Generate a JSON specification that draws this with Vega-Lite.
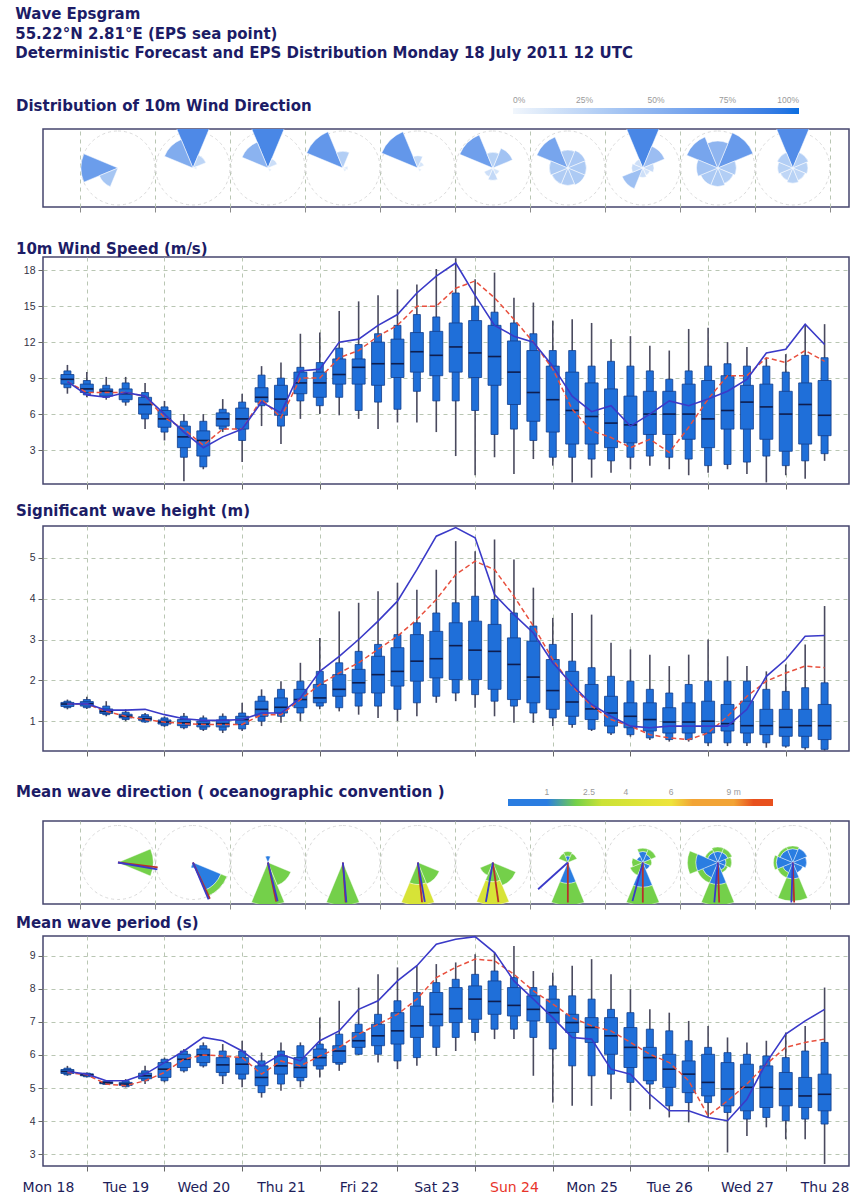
{
  "$schema": "https://vega.github.io/schema/vega-lite/v6.json",
  "background": "white",
  "padding": {"left": 15, "top": 7, "right": 5, "bottom": 0},
  "title": {
    "text": ["Wave Epsgram", "\u00a055.22°N 2.81°E (EPS sea point)", "Deterministic Forecast and EPS Distribution Monday 18 July 2011 12 UTC"],
    "anchor": "start", "frame": "bounds", "baseline": "bottom", "lineHeight": 19.5, "fontSize": 15, "offset": 22, "dx": 0,
    "color": "#1c1c66", "font": "DejaVu Sans", "fontWeight": "bold"
  },
  "spacing": 0,
  "datasets": {
    "roses": [{"i":0},{"i":1},{"i":2},{"i":3},{"i":4},{"i":5},{"i":6},{"i":7},{"i":8},{"i":9}],
    "wdir": [
      {"i":0,"d0":247.5,"d1":292.5,"p":0.66},{"i":0,"d0":202.5,"d1":247.5,"p":0.36},
      {"i":1,"d0":-22.5,"d1":22.5,"p":0.8},{"i":1,"d0":292.5,"d1":337.5,"p":0.55},{"i":1,"d0":22.5,"d1":67.5,"p":0.25},{"i":1,"d0":67.5,"d1":112.5,"p":0.07},
      {"i":2,"d0":-22.5,"d1":22.5,"p":0.82},{"i":2,"d0":292.5,"d1":337.5,"p":0.5},{"i":2,"d0":22.5,"d1":67.5,"p":0.18},{"i":2,"d0":112.5,"d1":157.5,"p":0.07},
      {"i":3,"d0":292.5,"d1":337.5,"p":0.7},{"i":3,"d0":-22.5,"d1":22.5,"p":0.3},{"i":3,"d0":67.5,"d1":112.5,"p":0.09},{"i":3,"d0":112.5,"d1":157.5,"p":0.07},
      {"i":4,"d0":292.5,"d1":337.5,"p":0.7},{"i":4,"d0":-22.5,"d1":22.5,"p":0.22},{"i":4,"d0":22.5,"d1":67.5,"p":0.12},{"i":4,"d0":112.5,"d1":157.5,"p":0.07},
      {"i":5,"d0":292.5,"d1":337.5,"p":0.64},{"i":5,"d0":22.5,"d1":67.5,"p":0.38},{"i":5,"d0":-22.5,"d1":22.5,"p":0.28},{"i":5,"d0":157.5,"d1":202.5,"p":0.22},{"i":5,"d0":202.5,"d1":247.5,"p":0.17},{"i":5,"d0":112.5,"d1":157.5,"p":0.13},
      {"i":6,"d0":292.5,"d1":337.5,"p":0.6},{"i":6,"d0":-22.5,"d1":22.5,"p":0.32},{"i":6,"d0":22.5,"d1":67.5,"p":0.34},{"i":6,"d0":67.5,"d1":112.5,"p":0.33},{"i":6,"d0":112.5,"d1":157.5,"p":0.33},{"i":6,"d0":157.5,"d1":202.5,"p":0.31},{"i":6,"d0":202.5,"d1":247.5,"p":0.31},{"i":6,"d0":247.5,"d1":292.5,"p":0.33},
      {"i":7,"d0":-22.5,"d1":22.5,"p":0.82},{"i":7,"d0":22.5,"d1":67.5,"p":0.42},{"i":7,"d0":67.5,"d1":112.5,"p":0.2},{"i":7,"d0":112.5,"d1":157.5,"p":0.14},{"i":7,"d0":157.5,"d1":202.5,"p":0.17},{"i":7,"d0":202.5,"d1":247.5,"p":0.4},{"i":7,"d0":247.5,"d1":292.5,"p":0.2},{"i":7,"d0":292.5,"d1":337.5,"p":0.17},
      {"i":8,"d0":22.5,"d1":67.5,"p":0.68},{"i":8,"d0":292.5,"d1":337.5,"p":0.6},{"i":8,"d0":-22.5,"d1":22.5,"p":0.48},{"i":8,"d0":67.5,"d1":112.5,"p":0.33},{"i":8,"d0":112.5,"d1":157.5,"p":0.3},{"i":8,"d0":157.5,"d1":202.5,"p":0.33},{"i":8,"d0":202.5,"d1":247.5,"p":0.33},{"i":8,"d0":247.5,"d1":292.5,"p":0.38},
      {"i":9,"d0":-22.5,"d1":22.5,"p":0.78},{"i":9,"d0":22.5,"d1":67.5,"p":0.3},{"i":9,"d0":67.5,"d1":112.5,"p":0.27},{"i":9,"d0":112.5,"d1":157.5,"p":0.24},{"i":9,"d0":157.5,"d1":202.5,"p":0.27},{"i":9,"d0":202.5,"d1":247.5,"p":0.24},{"i":9,"d0":247.5,"d1":292.5,"p":0.27},{"i":9,"d0":292.5,"d1":337.5,"p":0.3}
    ],
    "wave": [
      {"i":0,"d0":67.5,"d1":112.5,"c":1.75,"p":0.64},
      {"i":1,"d0":112.5,"d1":157.5,"c":0.5,"p":0.55},{"i":1,"d0":112.5,"d1":157.5,"c":1.75,"p":0.12},{"i":1,"d0":157.5,"d1":202.5,"c":0.5,"p":0.1},
      {"i":2,"d0":157.5,"d1":202.5,"c":1.75,"p":0.78},{"i":2,"d0":112.5,"d1":157.5,"c":1.75,"p":0.45},{"i":2,"d0":-22.5,"d1":22.5,"c":0.5,"p":0.12},
      {"i":3,"d0":157.5,"d1":202.5,"c":1.75,"p":0.78},
      {"i":4,"d0":157.5,"d1":202.5,"c":1.75,"p":0.4},{"i":4,"d0":157.5,"d1":202.5,"c":4,"p":0.38},{"i":4,"d0":112.5,"d1":157.5,"c":1.75,"p":0.42},
      {"i":5,"d0":157.5,"d1":202.5,"c":1.75,"p":0.35},{"i":5,"d0":157.5,"d1":202.5,"c":4,"p":0.42},{"i":5,"d0":112.5,"d1":157.5,"c":1.75,"p":0.45},{"i":5,"d0":202.5,"d1":247.5,"c":1.75,"p":0.25},
      {"i":6,"d0":-22.5,"d1":22.5,"c":0.5,"p":0.12},{"i":6,"d0":-22.5,"d1":22.5,"c":1.75,"p":0.08},{"i":6,"d0":22.5,"d1":67.5,"c":1.75,"p":0.18},{"i":6,"d0":292.5,"d1":337.5,"c":1.75,"p":0.18},{"i":6,"d0":157.5,"d1":202.5,"c":0.5,"p":0.38},{"i":6,"d0":157.5,"d1":202.5,"c":1.75,"p":0.4},
      {"i":7,"d0":-22.5,"d1":22.5,"c":0.5,"p":0.2},{"i":7,"d0":-22.5,"d1":22.5,"c":1.75,"p":0.06},{"i":7,"d0":22.5,"d1":67.5,"c":0.5,"p":0.16},{"i":7,"d0":22.5,"d1":67.5,"c":1.75,"p":0.1},{"i":7,"d0":67.5,"d1":112.5,"c":1.75,"p":0.16},{"i":7,"d0":112.5,"d1":157.5,"c":0.5,"p":0.14},{"i":7,"d0":157.5,"d1":202.5,"c":0.5,"p":0.45},{"i":7,"d0":157.5,"d1":202.5,"c":1.75,"p":0.33},{"i":7,"d0":202.5,"d1":247.5,"c":1.75,"p":0.25},{"i":7,"d0":247.5,"d1":292.5,"c":1.75,"p":0.2},{"i":7,"d0":292.5,"d1":337.5,"c":0.5,"p":0.12},
      {"i":8,"d0":-22.5,"d1":22.5,"c":0.5,"p":0.2},{"i":8,"d0":-22.5,"d1":22.5,"c":1.75,"p":0.08},{"i":8,"d0":22.5,"d1":67.5,"c":0.5,"p":0.2},{"i":8,"d0":22.5,"d1":67.5,"c":1.75,"p":0.08},{"i":8,"d0":67.5,"d1":112.5,"c":0.5,"p":0.15},{"i":8,"d0":67.5,"d1":112.5,"c":1.75,"p":0.1},{"i":8,"d0":112.5,"d1":157.5,"c":0.5,"p":0.15},{"i":8,"d0":112.5,"d1":157.5,"c":1.75,"p":0.05},{"i":8,"d0":157.5,"d1":202.5,"c":0.5,"p":0.4},{"i":8,"d0":157.5,"d1":202.5,"c":1.75,"p":0.38},{"i":8,"d0":202.5,"d1":247.5,"c":0.5,"p":0.3},{"i":8,"d0":202.5,"d1":247.5,"c":1.75,"p":0.1},{"i":8,"d0":247.5,"d1":292.5,"c":0.5,"p":0.4},{"i":8,"d0":247.5,"d1":292.5,"c":1.75,"p":0.15},{"i":8,"d0":292.5,"d1":337.5,"c":0.5,"p":0.2},{"i":8,"d0":292.5,"d1":337.5,"c":1.75,"p":0.05},
      {"i":9,"d0":-22.5,"d1":22.5,"c":0.5,"p":0.25},{"i":9,"d0":-22.5,"d1":22.5,"c":1.75,"p":0.05},{"i":9,"d0":22.5,"d1":67.5,"c":0.5,"p":0.28},{"i":9,"d0":67.5,"d1":112.5,"c":0.5,"p":0.25},{"i":9,"d0":112.5,"d1":157.5,"c":0.5,"p":0.2},{"i":9,"d0":157.5,"d1":202.5,"c":0.5,"p":0.3},{"i":9,"d0":157.5,"d1":202.5,"c":1.75,"p":0.4},{"i":9,"d0":202.5,"d1":247.5,"c":0.5,"p":0.2},{"i":9,"d0":202.5,"d1":247.5,"c":1.75,"p":0.1},{"i":9,"d0":247.5,"d1":292.5,"c":0.5,"p":0.3},{"i":9,"d0":247.5,"d1":292.5,"c":1.75,"p":0.05},{"i":9,"d0":292.5,"d1":337.5,"c":0.5,"p":0.25},{"i":9,"d0":292.5,"d1":337.5,"c":1.75,"p":0.05}
    ],
    "wline": [
      {"i":0,"m":"CTRL","dir":97},{"i":1,"m":"CTRL","dir":155},{"i":2,"m":"CTRL","dir":168},{"i":3,"m":"CTRL","dir":176},{"i":4,"m":"CTRL","dir":174},{"i":5,"m":"CTRL","dir":172},{"i":6,"m":"CTRL","dir":180},{"i":7,"m":"CTRL","dir":180},{"i":8,"m":"CTRL","dir":178},{"i":9,"m":"CTRL","dir":178},
      {"i":0,"m":"HRES","dir":100},{"i":1,"m":"HRES","dir":157},{"i":2,"m":"HRES","dir":166},{"i":3,"m":"HRES","dir":175},{"i":4,"m":"HRES","dir":170},{"i":5,"m":"HRES","dir":190},{"i":6,"m":"HRES","dir":228},{"i":7,"m":"HRES","dir":195},{"i":8,"m":"HRES","dir":185},{"i":9,"m":"HRES","dir":182}
    ],
    "ws": [
      {"h":18,"mn":7.7,"p10":8.2,"p25":8.5,"md":8.9,"p75":9.3,"p90":9.6,"mx":10.1,"hr":8.7,"ct":8.7},
      {"h":24,"mn":7.4,"p10":7.6,"p25":7.8,"md":8.1,"p75":8.5,"p90":8.8,"mx":9.5,"hr":7.6,"ct":7.8},
      {"h":30,"mn":7.2,"p10":7.4,"p25":7.5,"md":7.9,"p75":8.1,"p90":8.4,"mx":9.1,"hr":7.4,"ct":7.8},
      {"h":36,"mn":6.7,"p10":7.0,"p25":7.2,"md":7.7,"p75":8.1,"p90":8.6,"mx":9.1,"hr":7.8,"ct":7.8},
      {"h":42,"mn":4.75,"p10":5.6,"p25":6.0,"md":6.8,"p75":7.4,"p90":7.8,"mx":8.6,"hr":7.5,"ct":7.5},
      {"h":48,"mn":3.8,"p10":4.5,"p25":4.9,"md":5.6,"p75":6.3,"p90":6.6,"mx":7.1,"hr":6.0,"ct":5.7},
      {"h":54,"mn":0.4,"p10":2.4,"p25":3.2,"md":4.1,"p75":5.0,"p90":5.4,"mx":6.0,"hr":4.5,"ct":4.75},
      {"h":60,"mn":1.4,"p10":1.6,"p25":2.5,"md":3.8,"p75":4.6,"p90":5.4,"mx":6.0,"hr":3.2,"ct":3.4},
      {"h":66,"mn":4.5,"p10":4.75,"p25":5.0,"md":5.6,"p75":6.1,"p90":6.4,"mx":7.25,"hr":4.1,"ct":4.75},
      {"h":72,"mn":2.0,"p10":3.8,"p25":4.75,"md":5.6,"p75":6.5,"p90":7.0,"mx":7.7,"hr":4.75,"ct":4.75},
      {"h":78,"mn":5.0,"p10":6.7,"p25":7.0,"md":7.4,"p75":8.2,"p90":9.25,"mx":10.0,"hr":7.0,"ct":7.25},
      {"h":84,"mn":3.5,"p10":5.0,"p25":5.9,"md":7.25,"p75":8.4,"p90":9.0,"mx":10.3,"hr":6.1,"ct":5.7},
      {"h":90,"mn":5.6,"p10":7.1,"p25":7.7,"md":8.6,"p75":9.5,"p90":9.9,"mx":12.7,"hr":9.6,"ct":9.0},
      {"h":96,"mn":6.0,"p10":6.7,"p25":7.4,"md":8.6,"p75":9.5,"p90":10.3,"mx":12.8,"hr":9.75,"ct":9.0},
      {"h":102,"mn":5.9,"p10":7.4,"p25":8.5,"md":9.3,"p75":10.6,"p90":11.5,"mx":14.6,"hr":12.0,"ct":10.7},
      {"h":108,"mn":5.6,"p10":6.3,"p25":8.5,"md":9.9,"p75":10.6,"p90":11.8,"mx":15.4,"hr":12.25,"ct":11.3},
      {"h":114,"mn":4.75,"p10":7.0,"p25":8.4,"md":10.2,"p75":12.0,"p90":12.7,"mx":15.9,"hr":13.4,"ct":12.5},
      {"h":120,"mn":5.3,"p10":6.4,"p25":9.05,"md":10.2,"p75":12.25,"p90":13.4,"mx":16.4,"hr":14.3,"ct":13.4},
      {"h":126,"mn":5.3,"p10":7.9,"p25":9.5,"md":11.2,"p75":12.8,"p90":14.3,"mx":16.8,"hr":16.1,"ct":15.0},
      {"h":132,"mn":4.5,"p10":7.1,"p25":9.2,"md":10.9,"p75":12.9,"p90":14.1,"mx":18.1,"hr":17.5,"ct":15.0},
      {"h":138,"mn":2.5,"p10":7.1,"p25":9.5,"md":11.6,"p75":13.6,"p90":16.1,"mx":19.0,"hr":18.6,"ct":16.5},
      {"h":144,"mn":0.9,"p10":6.3,"p25":9.05,"md":11.1,"p75":13.8,"p90":15.0,"mx":17.25,"hr":15.9,"ct":17.1},
      {"h":150,"mn":2.4,"p10":4.3,"p25":8.4,"md":10.8,"p75":13.4,"p90":14.5,"mx":17.8,"hr":13.4,"ct":15.7},
      {"h":156,"mn":1.0,"p10":4.75,"p25":6.8,"md":9.5,"p75":12.1,"p90":13.6,"mx":15.7,"hr":12.5,"ct":13.9},
      {"h":162,"mn":2.25,"p10":3.8,"p25":5.4,"md":7.8,"p75":11.3,"p90":12.7,"mx":15.3,"hr":12.0,"ct":12.0},
      {"h":168,"mn":1.7,"p10":2.4,"p25":4.5,"md":7.2,"p75":10.0,"p90":11.3,"mx":13.8,"hr":10.0,"ct":9.75},
      {"h":174,"mn":0.3,"p10":2.4,"p25":3.5,"md":6.3,"p75":9.5,"p90":11.3,"mx":13.9,"hr":7.5,"ct":6.4},
      {"h":180,"mn":0.7,"p10":2.25,"p25":3.5,"md":5.8,"p75":8.6,"p90":10.0,"mx":13.6,"hr":6.2,"ct":4.6},
      {"h":186,"mn":1.1,"p10":2.1,"p25":3.2,"md":5.25,"p75":8.1,"p90":10.4,"mx":12.25,"hr":6.7,"ct":4.05},
      {"h":192,"mn":1.4,"p10":2.4,"p25":3.6,"md":5.1,"p75":7.5,"p90":10.0,"mx":12.5,"hr":5.0,"ct":3.2},
      {"h":198,"mn":1.7,"p10":2.5,"p25":4.3,"md":6.0,"p75":7.9,"p90":9.6,"mx":11.7,"hr":6.0,"ct":3.9},
      {"h":204,"mn":1.4,"p10":2.4,"p25":4.3,"md":6.0,"p75":7.9,"p90":8.9,"mx":11.3,"hr":7.1,"ct":2.8},
      {"h":210,"mn":0.9,"p10":2.25,"p25":3.9,"md":6.0,"p75":8.5,"p90":9.6,"mx":13.1,"hr":6.7,"ct":4.9},
      {"h":216,"mn":1.1,"p10":1.7,"p25":3.2,"md":5.6,"p75":8.8,"p90":10.0,"mx":13.2,"hr":7.25,"ct":7.25},
      {"h":222,"mn":1.4,"p10":1.8,"p25":4.75,"md":6.3,"p75":9.2,"p90":10.2,"mx":12.0,"hr":7.9,"ct":9.2},
      {"h":228,"mn":1.0,"p10":2.0,"p25":4.75,"md":7.0,"p75":8.4,"p90":10.0,"mx":11.6,"hr":8.9,"ct":9.2},
      {"h":234,"mn":0.3,"p10":2.5,"p25":3.9,"md":6.6,"p75":8.5,"p90":10.0,"mx":10.7,"hr":11.1,"ct":10.7},
      {"h":240,"mn":0.9,"p10":1.7,"p25":2.9,"md":6.0,"p75":7.9,"p90":9.5,"mx":11.0,"hr":11.4,"ct":10.3},
      {"h":246,"mn":0.6,"p10":2.1,"p25":3.5,"md":6.8,"p75":8.6,"p90":10.9,"mx":13.5,"hr":13.5,"ct":11.3},
      {"h":252,"mn":2.1,"p10":2.7,"p25":4.2,"md":5.9,"p75":8.8,"p90":10.7,"mx":13.5,"hr":11.8,"ct":10.4}
    ],
    "swh": [
      {"h":18,"mn":1.29,"p10":1.33,"p25":1.36,"md":1.42,"p75":1.46,"p90":1.49,"mx":1.53,"hr":1.42,"ct":1.42},
      {"h":24,"mn":1.3,"p10":1.33,"p25":1.37,"md":1.43,"p75":1.48,"p90":1.53,"mx":1.6,"hr":1.43,"ct":1.42},
      {"h":30,"mn":1.12,"p10":1.16,"p25":1.19,"md":1.24,"p75":1.3,"p90":1.37,"mx":1.49,"hr":1.27,"ct":1.24},
      {"h":36,"mn":1.0,"p10":1.04,"p25":1.08,"md":1.12,"p75":1.17,"p90":1.22,"mx":1.29,"hr":1.27,"ct":1.12},
      {"h":42,"mn":0.96,"p10":0.98,"p25":1.02,"md":1.06,"p75":1.11,"p90":1.16,"mx":1.2,"hr":1.29,"ct":1.04},
      {"h":48,"mn":0.86,"p10":0.89,"p25":0.93,"md":0.98,"p75":1.03,"p90":1.08,"mx":1.12,"hr":1.16,"ct":0.98},
      {"h":54,"mn":0.8,"p10":0.84,"p25":0.89,"md":0.96,"p75":1.04,"p90":1.12,"mx":1.2,"hr":1.06,"ct":0.94},
      {"h":60,"mn":0.76,"p10":0.8,"p25":0.86,"md":0.93,"p75":1.0,"p90":1.08,"mx":1.14,"hr":1.02,"ct":0.92},
      {"h":66,"mn":0.71,"p10":0.78,"p25":0.86,"md":0.94,"p75":1.03,"p90":1.12,"mx":1.19,"hr":1.02,"ct":0.92},
      {"h":72,"mn":0.76,"p10":0.81,"p25":0.92,"md":1.04,"p75":1.12,"p90":1.2,"mx":1.45,"hr":1.04,"ct":0.92},
      {"h":78,"mn":0.88,"p10":1.0,"p25":1.12,"md":1.29,"p75":1.49,"p90":1.61,"mx":1.78,"hr":1.2,"ct":1.16},
      {"h":84,"mn":0.96,"p10":1.12,"p25":1.2,"md":1.34,"p75":1.57,"p90":1.78,"mx":1.98,"hr":1.2,"ct":1.16},
      {"h":90,"mn":1.0,"p10":1.2,"p25":1.33,"md":1.53,"p75":1.78,"p90":1.98,"mx":2.43,"hr":1.57,"ct":1.53},
      {"h":96,"mn":1.29,"p10":1.37,"p25":1.45,"md":1.57,"p75":1.9,"p90":2.22,"mx":3.04,"hr":2.22,"ct":1.9},
      {"h":102,"mn":1.24,"p10":1.33,"p25":1.61,"md":1.78,"p75":2.14,"p90":2.43,"mx":3.69,"hr":2.59,"ct":2.18},
      {"h":108,"mn":1.16,"p10":1.37,"p25":1.69,"md":1.94,"p75":2.27,"p90":2.71,"mx":3.9,"hr":3.0,"ct":2.43},
      {"h":114,"mn":1.08,"p10":1.37,"p25":1.69,"md":2.14,"p75":2.59,"p90":2.88,"mx":4.18,"hr":3.45,"ct":2.76},
      {"h":120,"mn":1.0,"p10":1.29,"p25":1.86,"md":2.22,"p75":2.8,"p90":3.12,"mx":4.39,"hr":3.94,"ct":3.08},
      {"h":126,"mn":1.12,"p10":1.45,"p25":1.98,"md":2.47,"p75":3.12,"p90":3.41,"mx":4.22,"hr":4.71,"ct":3.49},
      {"h":132,"mn":1.45,"p10":1.61,"p25":2.06,"md":2.53,"p75":3.2,"p90":3.65,"mx":4.71,"hr":5.53,"ct":3.98},
      {"h":138,"mn":1.49,"p10":1.69,"p25":2.02,"md":2.85,"p75":3.41,"p90":3.9,"mx":5.41,"hr":5.74,"ct":4.59},
      {"h":144,"mn":1.33,"p10":1.65,"p25":2.02,"md":2.74,"p75":3.45,"p90":4.06,"mx":5.16,"hr":5.49,"ct":4.92},
      {"h":150,"mn":1.12,"p10":1.49,"p25":1.78,"md":2.71,"p75":3.37,"p90":3.98,"mx":5.45,"hr":4.1,"ct":4.71},
      {"h":156,"mn":0.96,"p10":1.37,"p25":1.53,"md":2.39,"p75":3.04,"p90":3.65,"mx":4.96,"hr":3.61,"ct":4.06},
      {"h":162,"mn":0.96,"p10":1.2,"p25":1.45,"md":2.08,"p75":2.96,"p90":3.33,"mx":4.27,"hr":3.16,"ct":3.33},
      {"h":168,"mn":0.88,"p10":1.08,"p25":1.29,"md":1.75,"p75":2.51,"p90":2.88,"mx":3.53,"hr":2.43,"ct":2.51},
      {"h":174,"mn":0.84,"p10":0.92,"p25":1.12,"md":1.47,"p75":2.22,"p90":2.47,"mx":3.65,"hr":1.9,"ct":1.86},
      {"h":180,"mn":0.76,"p10":0.8,"p25":1.04,"md":1.3,"p75":1.9,"p90":2.31,"mx":3.61,"hr":1.41,"ct":1.37},
      {"h":186,"mn":0.66,"p10":0.71,"p25":0.88,"md":1.2,"p75":1.61,"p90":2.1,"mx":2.92,"hr":1.12,"ct":1.04},
      {"h":192,"mn":0.62,"p10":0.67,"p25":0.84,"md":1.12,"p75":1.45,"p90":1.98,"mx":2.76,"hr":0.88,"ct":0.88},
      {"h":198,"mn":0.54,"p10":0.59,"p25":0.76,"md":1.04,"p75":1.45,"p90":1.78,"mx":2.63,"hr":0.84,"ct":0.67},
      {"h":204,"mn":0.5,"p10":0.55,"p25":0.71,"md":0.98,"p75":1.33,"p90":1.69,"mx":2.35,"hr":0.88,"ct":0.59},
      {"h":210,"mn":0.5,"p10":0.55,"p25":0.71,"md":0.98,"p75":1.45,"p90":1.9,"mx":2.63,"hr":0.88,"ct":0.55},
      {"h":216,"mn":0.39,"p10":0.47,"p25":0.71,"md":1.0,"p75":1.49,"p90":1.98,"mx":3.0,"hr":0.88,"ct":0.71},
      {"h":222,"mn":0.39,"p10":0.47,"p25":0.76,"md":0.94,"p75":1.41,"p90":1.98,"mx":2.59,"hr":0.88,"ct":1.12},
      {"h":228,"mn":0.39,"p10":0.47,"p25":0.71,"md":0.89,"p75":1.49,"p90":1.98,"mx":2.35,"hr":1.29,"ct":1.61},
      {"h":234,"mn":0.35,"p10":0.47,"p25":0.67,"md":0.89,"p75":1.29,"p90":1.78,"mx":2.22,"hr":2.1,"ct":1.98},
      {"h":240,"mn":0.35,"p10":0.39,"p25":0.63,"md":0.85,"p75":1.29,"p90":1.73,"mx":2.39,"hr":2.51,"ct":2.18},
      {"h":246,"mn":0.3,"p10":0.35,"p25":0.63,"md":0.89,"p75":1.29,"p90":1.82,"mx":2.88,"hr":3.08,"ct":2.35},
      {"h":252,"mn":0.28,"p10":0.31,"p25":0.55,"md":0.89,"p75":1.41,"p90":1.94,"mx":3.82,"hr":3.1,"ct":2.31}
    ],
    "mwp": [
      {"h":18,"mn":5.37,"p10":5.4,"p25":5.44,"md":5.5,"p75":5.56,"p90":5.6,"mx":5.67,"hr":5.5,"ct":5.47},
      {"h":24,"mn":5.32,"p10":5.34,"p25":5.37,"md":5.4,"p75":5.43,"p90":5.45,"mx":5.47,"hr":5.42,"ct":5.4},
      {"h":30,"mn":5.1,"p10":5.11,"p25":5.13,"md":5.16,"p75":5.19,"p90":5.21,"mx":5.22,"hr":5.22,"ct":5.12},
      {"h":36,"mn":5.02,"p10":5.04,"p25":5.08,"md":5.12,"p75":5.17,"p90":5.22,"mx":5.27,"hr":5.22,"ct":5.07},
      {"h":42,"mn":5.12,"p10":5.22,"p25":5.28,"md":5.37,"p75":5.45,"p90":5.52,"mx":5.67,"hr":5.42,"ct":5.22},
      {"h":48,"mn":5.17,"p10":5.22,"p25":5.32,"md":5.57,"p75":5.77,"p90":5.87,"mx":5.92,"hr":5.77,"ct":5.47},
      {"h":54,"mn":5.47,"p10":5.52,"p25":5.62,"md":5.87,"p75":6.02,"p90":6.12,"mx":6.18,"hr":6.12,"ct":5.87},
      {"h":60,"mn":5.62,"p10":5.67,"p25":5.77,"md":6.0,"p75":6.18,"p90":6.28,"mx":6.38,"hr":6.53,"ct":6.0},
      {"h":66,"mn":5.12,"p10":5.37,"p25":5.47,"md":5.7,"p75":5.92,"p90":6.12,"mx":6.33,"hr":6.43,"ct":5.97},
      {"h":72,"mn":5.02,"p10":5.27,"p25":5.42,"md":5.72,"p75":5.92,"p90":6.12,"mx":6.43,"hr":6.12,"ct":5.92},
      {"h":78,"mn":4.71,"p10":4.86,"p25":5.07,"md":5.32,"p75":5.67,"p90":5.82,"mx":6.07,"hr":5.67,"ct":5.42},
      {"h":84,"mn":4.92,"p10":5.12,"p25":5.42,"md":5.67,"p75":5.97,"p90":6.12,"mx":6.38,"hr":6.02,"ct":5.82},
      {"h":90,"mn":5.02,"p10":5.22,"p25":5.32,"md":5.62,"p75":5.92,"p90":6.28,"mx":6.38,"hr":5.82,"ct":5.67},
      {"h":96,"mn":5.32,"p10":5.57,"p25":5.67,"md":5.92,"p75":6.18,"p90":6.33,"mx":7.13,"hr":6.43,"ct":5.97},
      {"h":102,"mn":5.52,"p10":5.72,"p25":5.77,"md":6.12,"p75":6.28,"p90":6.63,"mx":7.64,"hr":6.73,"ct":6.23},
      {"h":108,"mn":6.0,"p10":6.02,"p25":6.23,"md":6.43,"p75":6.68,"p90":6.93,"mx":8.04,"hr":7.38,"ct":6.63},
      {"h":114,"mn":5.77,"p10":6.02,"p25":6.28,"md":6.58,"p75":6.93,"p90":7.23,"mx":8.44,"hr":7.64,"ct":6.93},
      {"h":120,"mn":5.57,"p10":5.82,"p25":6.33,"md":6.73,"p75":7.28,"p90":7.64,"mx":8.65,"hr":8.24,"ct":7.23},
      {"h":126,"mn":5.67,"p10":5.92,"p25":6.53,"md":6.88,"p75":7.48,"p90":7.89,"mx":8.7,"hr":8.7,"ct":7.69},
      {"h":132,"mn":5.97,"p10":6.23,"p25":6.88,"md":7.23,"p75":7.89,"p90":8.19,"mx":8.75,"hr":9.35,"ct":8.34},
      {"h":138,"mn":6.12,"p10":6.53,"p25":6.98,"md":7.4,"p75":8.04,"p90":8.29,"mx":8.8,"hr":9.5,"ct":8.65},
      {"h":144,"mn":6.43,"p10":6.68,"p25":7.08,"md":7.69,"p75":8.09,"p90":8.44,"mx":9.05,"hr":9.58,"ct":8.9},
      {"h":150,"mn":6.48,"p10":6.78,"p25":7.23,"md":7.62,"p75":8.24,"p90":8.54,"mx":9.1,"hr":9.1,"ct":8.85},
      {"h":156,"mn":6.48,"p10":6.78,"p25":7.18,"md":7.5,"p75":8.04,"p90":8.34,"mx":9.3,"hr":8.24,"ct":8.44},
      {"h":162,"mn":5.37,"p10":6.53,"p25":7.03,"md":7.38,"p75":7.79,"p90":8.04,"mx":8.54,"hr":7.69,"ct":7.94},
      {"h":168,"mn":4.56,"p10":6.18,"p25":6.98,"md":7.28,"p75":7.69,"p90":8.09,"mx":8.49,"hr":7.13,"ct":7.54},
      {"h":174,"mn":4.46,"p10":5.67,"p25":6.68,"md":6.98,"p75":7.23,"p90":7.79,"mx":8.7,"hr":6.53,"ct":7.13},
      {"h":180,"mn":4.46,"p10":5.37,"p25":6.38,"md":6.83,"p75":7.13,"p90":7.69,"mx":8.9,"hr":6.48,"ct":6.88},
      {"h":186,"mn":4.66,"p10":5.42,"p25":6.02,"md":6.58,"p75":7.13,"p90":7.38,"mx":8.44,"hr":5.57,"ct":6.73},
      {"h":192,"mn":4.31,"p10":5.17,"p25":5.62,"md":6.23,"p75":6.83,"p90":7.28,"mx":7.99,"hr":5.42,"ct":6.38},
      {"h":198,"mn":4.36,"p10":5.12,"p25":5.22,"md":5.92,"p75":6.23,"p90":6.78,"mx":7.38,"hr":4.81,"ct":6.02},
      {"h":204,"mn":4.11,"p10":4.46,"p25":5.02,"md":5.57,"p75":6.02,"p90":6.73,"mx":7.28,"hr":4.31,"ct":5.77},
      {"h":210,"mn":3.96,"p10":4.56,"p25":4.86,"md":5.42,"p75":5.82,"p90":6.43,"mx":7.03,"hr":4.31,"ct":5.22},
      {"h":216,"mn":4.11,"p10":4.56,"p25":4.76,"md":5.17,"p75":6.02,"p90":6.23,"mx":6.88,"hr":4.11,"ct":4.16},
      {"h":222,"mn":3.05,"p10":4.26,"p25":4.46,"md":4.97,"p75":5.77,"p90":6.07,"mx":6.53,"hr":4.01,"ct":4.61},
      {"h":228,"mn":3.55,"p10":4.06,"p25":4.31,"md":5.02,"p75":5.72,"p90":6.02,"mx":6.38,"hr":4.66,"ct":5.12},
      {"h":234,"mn":3.81,"p10":4.11,"p25":4.41,"md":5.02,"p75":5.67,"p90":5.97,"mx":6.43,"hr":5.77,"ct":5.72},
      {"h":240,"mn":3.45,"p10":4.01,"p25":4.46,"md":4.97,"p75":5.47,"p90":5.92,"mx":6.68,"hr":6.63,"ct":6.23},
      {"h":246,"mn":3.45,"p10":4.06,"p25":4.41,"md":4.76,"p75":5.32,"p90":6.12,"mx":6.88,"hr":7.03,"ct":6.38},
      {"h":252,"mn":2.7,"p10":3.91,"p25":4.31,"md":4.81,"p75":5.42,"p90":6.38,"mx":8.04,"hr":7.38,"ct":6.48}
    ]
  },
  "vconcat": [
    {
      "width": 806, "height": 78,
      "title": {"text": "Distribution of 10m Wind Direction", "offset": -6},
      "encoding": {"x": {"field": "i", "type": "quantitative", "stack": null, "scale": {"domain": [-1, 9.75], "nice": false, "zero": false},
        "axis": {"values": [-0.5,0.5,1.5,2.5,3.5,4.5,5.5,6.5,7.5,8.5,9.5], "labels": false, "grid": true, "gridDash": [4,4], "gridColor": "#b9c6b3", "ticks": true, "tickSize": 5, "tickColor": "#8a8a8a", "domain": false, "title": null}}},
      "layer": [
        {"data": {"name": "roses"}, "mark": {"type": "arc", "theta": 0, "theta2": 6.2832, "outerRadius": 37, "innerRadius": 0, "filled": false, "stroke": "#dadada", "strokeWidth": 1, "strokeDash": [3,3]}},
        {"data": {"name": "wdir"}, "mark": {"type": "arc", "clip": true, "stroke": "white", "strokeWidth": 0.5},
          "encoding": {
            "theta": {"field": "d0", "type": "quantitative", "stack": null, "scale": {"domain": [0, 360], "range": [0, 6.2832], "zero": false, "nice": false}},
            "theta2": {"field": "d1"},
            "radius": {"field": "p", "type": "quantitative", "stack": null, "scale": {"type": "linear", "domain": [0, 1], "range": [0, 56], "zero": true}},
            "color": {"field": "p", "type": "quantitative", "scale": {"domain": [0, 1], "range": ["#f1f6fc", "#0a6ee0"]},
              "legend": {"orient": "none", "legendX": 470, "legendY": -21, "direction": "horizontal", "gradientLength": 286, "gradientThickness": 6, "title": null, "values": [0, 0.25, 0.5, 0.75, 1], "format": ".0%", "labelFontSize": 8.5, "labelColor": "#9a9a9a", "labelOffset": -18, "labelOverlap": false, "gradientStrokeWidth": 0}}
          }}
      ]
    },
    {
      "width": 806, "height": 227,
      "title": {"text": ["", "10m Wind Speed (m/s)"], "lineHeight": 27, "offset": 0},
      "data": {"name": "ws"},
      "encoding": {"x": {"field": "h", "type": "quantitative", "scale": {"domain": [12, 258], "nice": false, "zero": false},
        "axis": {"values": [12,24,36,48,60,72,84,96,108,120,132,144,156,168,180,192,204,216,228,240,252], "labels": false, "grid": true, "gridDash": [4,4], "gridColor": "#b9c6b3",
          "gridOpacity": {"condition": {"test": "datum.value % 24 === 0", "value": 1}, "value": 0},
          "ticks": true, "tickSize": 5, "tickColor": "#666",
          "tickOpacity": {"condition": {"test": "datum.value % 24 === 0", "value": 1}, "value": 0},
          "domain": false, "title": null}}},
      "layer": [
        {"mark": {"type": "rule", "color": "#4a4a5e", "strokeWidth": 1.6},
          "encoding": {"y": {"field": "mn", "type": "quantitative", "scale": {"domain": [0.17, 19.1], "nice": false, "zero": false},
            "axis": {"values": [3,6,9,12,15,18], "grid": true, "gridDash": [4,4], "gridColor": "#b9c6b3", "tickSize": 5, "tickColor": "#666", "labelFontSize": 10.5, "labelColor": "#333344", "labelPadding": 3, "labelOverlap": false, "domain": false, "title": null}},
            "y2": {"field": "mx"}}},
        {"mark": {"type": "bar", "size": 7, "fill": "#1f6fd9", "stroke": "#123e8c", "strokeWidth": 0.8}, "encoding": {"y": {"field": "p10", "type": "quantitative"}, "y2": {"field": "p90"}}},
        {"mark": {"type": "bar", "size": 13, "fill": "#1f6fd9", "stroke": "#123e8c", "strokeWidth": 0.8}, "encoding": {"y": {"field": "p25", "type": "quantitative"}, "y2": {"field": "p75"}}},
        {"mark": {"type": "point", "shape": "stroke", "size": 169, "filled": false, "stroke": "#0e1d4e", "strokeWidth": 1.6, "opacity": 1}, "encoding": {"y": {"field": "md", "type": "quantitative"}}},
        {"mark": {"type": "line", "color": "#e8503e", "strokeWidth": 1.5, "strokeDash": [5, 3]}, "encoding": {"y": {"field": "ct", "type": "quantitative"}}},
        {"mark": {"type": "line", "color": "#3a3ac8", "strokeWidth": 1.6}, "encoding": {"y": {"field": "hr", "type": "quantitative"}}}
      ]
    },
    {
      "width": 806, "height": 225,
      "title": {"text": ["", "Significant wave height (m)"], "lineHeight": 12, "offset": 5},
      "data": {"name": "swh"},
      "encoding": {"x": {"field": "h", "type": "quantitative", "scale": {"domain": [12, 258], "nice": false, "zero": false},
        "axis": {"values": [12,24,36,48,60,72,84,96,108,120,132,144,156,168,180,192,204,216,228,240,252], "labels": false, "grid": true, "gridDash": [4,4], "gridColor": "#b9c6b3",
          "gridOpacity": {"condition": {"test": "datum.value % 24 === 0", "value": 1}, "value": 0},
          "ticks": true, "tickSize": 5, "tickColor": "#666",
          "tickOpacity": {"condition": {"test": "datum.value % 24 === 0", "value": 1}, "value": 0},
          "domain": false, "title": null}}},
      "layer": [
        {"mark": {"type": "rule", "color": "#4a4a5e", "strokeWidth": 1.6},
          "encoding": {"y": {"field": "mn", "type": "quantitative", "scale": {"domain": [0.27, 5.78], "nice": false, "zero": false},
            "axis": {"values": [1,2,3,4,5], "grid": true, "gridDash": [4,4], "gridColor": "#b9c6b3", "tickSize": 5, "tickColor": "#666", "labelFontSize": 10.5, "labelColor": "#333344", "labelPadding": 3, "labelOverlap": false, "domain": false, "title": null}},
            "y2": {"field": "mx"}}},
        {"mark": {"type": "bar", "size": 7, "fill": "#1f6fd9", "stroke": "#123e8c", "strokeWidth": 0.8}, "encoding": {"y": {"field": "p10", "type": "quantitative"}, "y2": {"field": "p90"}}},
        {"mark": {"type": "bar", "size": 13, "fill": "#1f6fd9", "stroke": "#123e8c", "strokeWidth": 0.8}, "encoding": {"y": {"field": "p25", "type": "quantitative"}, "y2": {"field": "p75"}}},
        {"mark": {"type": "point", "shape": "stroke", "size": 169, "filled": false, "stroke": "#0e1d4e", "strokeWidth": 1.6, "opacity": 1}, "encoding": {"y": {"field": "md", "type": "quantitative"}}},
        {"mark": {"type": "line", "color": "#e8503e", "strokeWidth": 1.5, "strokeDash": [5, 3]}, "encoding": {"y": {"field": "ct", "type": "quantitative"}}},
        {"mark": {"type": "line", "color": "#3a3ac8", "strokeWidth": 1.6}, "encoding": {"y": {"field": "hr", "type": "quantitative"}}}
      ]
    },
    {
      "width": 806, "height": 83,
      "title": {"text": ["", "Mean wave direction ( oceanographic convention )"], "lineHeight": 26, "offset": -1},
      "encoding": {"x": {"field": "i", "type": "quantitative", "stack": null, "scale": {"domain": [-1, 9.75], "nice": false, "zero": false},
        "axis": {"values": [-0.5,0.5,1.5,2.5,3.5,4.5,5.5,6.5,7.5,8.5,9.5], "labels": false, "grid": true, "gridDash": [4,4], "gridColor": "#b9c6b3", "ticks": true, "tickSize": 5, "tickColor": "#8a8a8a", "domain": false, "title": null}}},
      "layer": [
        {"data": {"name": "roses"}, "mark": {"type": "arc", "theta": 0, "theta2": 6.2832, "outerRadius": 37, "innerRadius": 0, "filled": false, "stroke": "#dadada", "strokeWidth": 1, "strokeDash": [3,3]}},
        {"data": {"name": "wave"},
          "transform": [{"stack": "p", "groupby": ["i", "d0"], "sort": [{"field": "c", "order": "ascending"}], "as": ["r0", "r1"]}],
          "mark": {"type": "arc", "clip": true, "stroke": "white", "strokeWidth": 0.4},
          "encoding": {
            "theta": {"field": "d0", "type": "quantitative", "stack": null, "scale": {"domain": [0, 360], "range": [0, 6.2832], "zero": false, "nice": false}},
            "theta2": {"field": "d1"},
            "radius": {"field": "r1", "type": "quantitative", "stack": null, "scale": {"type": "linear", "domain": [0, 1], "range": [0, 55], "zero": true}},
            "radius2": {"field": "r0"},
            "color": {"field": "c", "type": "quantitative",
              "scale": {"type": "pow", "exponent": 0.8, "domain": [0, 1, 1.001, 2.5, 2.501, 6, 6.001, 9, 9.001, 11],
                "range": ["#2a7de1", "#2a7de1", "#74d04a", "#74d04a", "#c4e236", "#eee43c", "#f2a436", "#f2a436", "#e8501e", "#e8501e"]},
              "legend": {"orient": "none", "legendX": 465, "legendY": -22, "direction": "horizontal", "gradientLength": 265, "gradientThickness": 7, "title": null, "values": [1, 2.5, 4, 6, 9], "format": ".1~f", "labelExpr": "datum.value == 9 ? '9 m' : datum.label", "labelFontSize": 8.5, "labelColor": "#9a9a9a", "labelOffset": -18, "labelOverlap": false, "gradientStrokeWidth": 0}}
          }},
        {"data": {"name": "wline"},
          "mark": {"type": "point", "shape": "M0,0L0,-1", "size": 6400, "filled": false, "strokeWidth": 1.8, "opacity": 1, "clip": true},
          "encoding": {
            "angle": {"field": "dir", "type": "quantitative", "scale": {"domain": [0, 360], "range": [0, 360]}},
            "stroke": {"field": "m", "type": "nominal", "scale": {"domain": ["HRES", "CTRL"], "range": ["#3a3ac8", "#b8322a"]}, "legend": null}
          }}
      ]
    },
    {
      "width": 806, "height": 230,
      "title": {"text": ["", "Mean wave period (s)"], "lineHeight": 4, "offset": 2},
      "data": {"name": "mwp"},
      "encoding": {"x": {"field": "h", "type": "quantitative", "scale": {"domain": [12, 258], "nice": false, "zero": false},
        "axis": {"values": [12,24,36,48,60,72,84,96,108,120,132,144,156,168,180,192,204,216,228,240,252], "labels": true, "grid": true, "gridDash": [4,4], "gridColor": "#b9c6b3",
          "gridOpacity": {"condition": {"test": "datum.value % 24 === 0", "value": 1}, "value": 0},
          "ticks": true, "tickSize": 5, "tickColor": "#666",
          "tickOpacity": {"condition": {"test": "datum.value % 24 === 0", "value": 1}, "value": 0},
          "labelExpr": "datum.value % 24 === 12 ? ['Mon 18','Tue 19','Wed 20','Thu 21','Fri 22','Sat 23','Sun 24','Mon 25','Tue 26','Wed 27','Thu 28'][floor(datum.value / 24)] : ''",
          "labelColor": {"condition": {"test": "datum.value === 156", "value": "#e8352a"}, "value": "#1e1e5a"},
          "labelFont": "DejaVu Sans", "labelFontSize": 14, "labelPadding": 9, "labelOverlap": false, "labelFlush": false,
          "domain": false, "title": null}}},
      "layer": [
        {"mark": {"type": "rule", "color": "#4a4a5e", "strokeWidth": 1.6},
          "encoding": {"y": {"field": "mn", "type": "quantitative", "scale": {"domain": [2.64, 9.6], "nice": false, "zero": false},
            "axis": {"values": [3,4,5,6,7,8,9], "tickCount": 7, "grid": true, "gridDash": [4,4], "gridColor": "#b9c6b3", "tickSize": 5, "tickColor": "#666", "labelFontSize": 10.5, "labelColor": "#333344", "labelPadding": 3, "labelOverlap": false, "labelSeparation": 0, "labelBound": false, "domain": false, "title": null}},
            "y2": {"field": "mx"}}},
        {"mark": {"type": "bar", "size": 7, "fill": "#1f6fd9", "stroke": "#123e8c", "strokeWidth": 0.8}, "encoding": {"y": {"field": "p10", "type": "quantitative", "axis": {"values": [3,4,5,6,7,8,9], "labelOverlap": false}}, "y2": {"field": "p90"}}},
        {"mark": {"type": "bar", "size": 13, "fill": "#1f6fd9", "stroke": "#123e8c", "strokeWidth": 0.8}, "encoding": {"y": {"field": "p25", "type": "quantitative"}, "y2": {"field": "p75"}}},
        {"mark": {"type": "point", "shape": "stroke", "size": 169, "filled": false, "stroke": "#0e1d4e", "strokeWidth": 1.6, "opacity": 1}, "encoding": {"y": {"field": "md", "type": "quantitative"}}},
        {"mark": {"type": "line", "color": "#e8503e", "strokeWidth": 1.5, "strokeDash": [5, 3]}, "encoding": {"y": {"field": "ct", "type": "quantitative"}}},
        {"mark": {"type": "line", "color": "#3a3ac8", "strokeWidth": 1.6}, "encoding": {"y": {"field": "hr", "type": "quantitative"}}}
      ]
    }
  ],
  "resolve": {"scale": {"color": "independent", "radius": "independent", "theta": "independent"}},
  "config": {
    "view": {"stroke": "#46466e", "strokeWidth": 1.5},
    "title": {"font": "DejaVu Sans", "fontSize": 15, "fontWeight": "bold", "color": "#1c1c66", "anchor": "start", "frame": "group", "dx": -27, "baseline": "bottom"},
    "axis": {"labelFont": "Liberation Sans"},
    "axisY": {"labelOverlap": false},
    "legend": {"labelFont": "Liberation Sans", "padding": 0}
  }
}
